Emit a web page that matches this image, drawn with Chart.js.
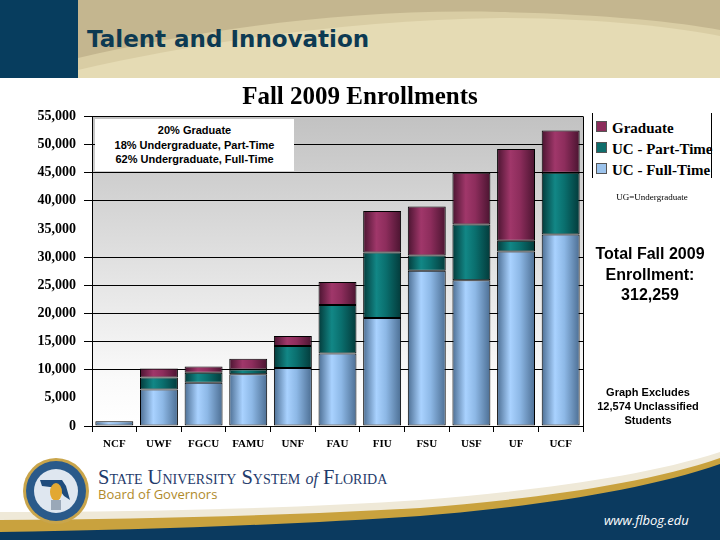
<!DOCTYPE html>
<html lang="en">
<head>
    <meta charset="UTF-8">
    <title>Fall 2009 Enrollments</title>
    <script src="https://cdn.jsdelivr.net/npm/chart.js"></script>
    <style>
        body {
            margin: 0;
            width: 720px;
            height: 540px;
            overflow: hidden;
            background: #fff;
            position: relative;
            font-family: 'Liberation Serif', serif;
        }
        .abs { position: absolute; }
        #chartBox {
            position: absolute;
            left: 0;
            top: 100px;
            width: 590px;
            height: 360px;
        }
        .slide-title {
            left: 87px;
            top: 26px;
            font-family: 'DejaVu Sans', sans-serif;
            font-weight: bold;
            font-size: 23px;
            color: #0d3a52;
        }
        .chart-title {
            left: 200px;
            width: 320px;
            top: 82px;
            text-align: center;
            font-weight: bold;
            font-size: 25px;
        }
        .note {
            left: 95px;
            top: 119px;
            width: 199px;
            height: 52px;
            background: #fff;
            font-family: 'Liberation Sans', Arial, sans-serif;
            font-weight: bold;
            font-size: 11px;
            line-height: 14.5px;
            text-align: center;
            padding-top: 4px;
            box-sizing: border-box;
        }
        #legend {
            left: 592px;
            top: 113px;
            width: 120px;
            height: 65px;
            border-left: 1px solid #000;
            border-right: 1px solid #000;
            box-sizing: border-box;
            padding: 6px 0 0 3px;
        }
        .leg-item {
            font-weight: bold;
            font-size: 15px;
            height: 21px;
            line-height: 18px;
            white-space: nowrap;
        }
        .leg-item span {
            display: inline-block;
            width: 9px;
            height: 9px;
            border: 1px solid #555;
            margin-right: 5px;
            vertical-align: 1px;
        }
        .ug {
            left: 592px;
            width: 120px;
            top: 192px;
            text-align: center;
            font-size: 9px;
        }
        .total {
            left: 580px;
            width: 140px;
            top: 244px;
            text-align: center;
            font-family: 'Liberation Sans', Arial, sans-serif;
            font-weight: bold;
            font-size: 16px;
            line-height: 20.5px;
        }
        .excl {
            left: 580px;
            width: 136px;
            top: 385px;
            text-align: center;
            font-family: 'Liberation Sans', Arial, sans-serif;
            font-weight: bold;
            font-size: 11px;
            line-height: 14px;
        }
        .sus {
            left: 98px;
            top: 466px;
            font-size: 20.5px;
            font-variant: small-caps;
            color: #1f3b6b;
        }
        .bog {
            left: 98px;
            top: 485px;
            font-family: 'Open Sans', sans-serif;
            font-size: 13px;
            color: #b08a2a;
        }
        .web {
            left: 604px;
            top: 511px;
            font-family: 'Open Sans', sans-serif;
            font-style: italic;
            font-size: 13px;
            color: #fff;
        }
    </style>
</head>
<body>
    <!-- slide header -->
    <svg class="abs" style="left:0;top:0" width="720" height="80">
        <rect x="0" y="0" width="720" height="78" fill="#c4b68f"/>
        <path d="M78,58 C200,30 350,8 500,12 C600,14 680,22 720,30 L720,78 L78,78 Z" fill="#d9cda4"/>
        <path d="M78,70 C200,42 350,20 500,18 C600,18 680,28 720,36 L720,78 L78,78 Z" fill="#e5dbb4"/>
        <rect x="0" y="0" width="78" height="78" fill="#073d5e"/>
    </svg>
    <div class="abs slide-title">Talent and Innovation</div>

    <!-- slide footer -->
    <svg class="abs" style="left:0;top:440px" width="720" height="100">
        <path d="M0,72 C150,72 300,68 420,60 C520,52 640,38 720,12 L720,30 C640,50 520,66 420,74 C300,82 150,84 0,84 Z" fill="#efe9d8"/>
        <path d="M0,80 C150,79 300,75 420,68 C520,60 640,46 720,18 L720,100 L0,100 Z" fill="#c9a23e"/>
        <path d="M0,92 C150,90 300,84 420,76 C520,68 640,52 720,24 L720,100 L0,100 Z" fill="#0b3a5f"/>
        <circle cx="56" cy="51" r="33" fill="#c9a54b"/>
        <circle cx="56" cy="51" r="30" fill="#2a5a8a"/>
        <circle cx="56" cy="51" r="22" fill="#dfe7f0"/>
        <path d="M40,40 L62,40 L66,46 L70,60 L64,56 L58,48 L42,46 Z" fill="#1f4c7c"/>
        <ellipse cx="56" cy="52" rx="6" ry="9" fill="#e2a832"/>
        <rect x="51" y="60" width="10" height="10" fill="#9aa8b8"/>
    </svg>
    <div class="abs sus">State University System <i style="font-variant:normal;font-size:16px">of</i> Florida</div>
    <div class="abs bog">Board of Governors</div>
    <div class="abs web">www.flbog.edu</div>

    <div id="chartBox"><canvas id="enrollChart"></canvas></div>

    <div class="abs chart-title">Fall 2009 Enrollments</div>
    <div class="abs note">20% Graduate<br>18% Undergraduate, Part-Time<br>62% Undergraduate, Full-Time</div>
    <div class="abs" id="legend"></div>
    <div class="abs ug">UG=Undergraduate</div>
    <div class="abs total">Total Fall 2009<br>Enrollment:<br>312,259</div>
    <div class="abs excl">Graph Excludes<br>12,574 Unclassified<br>Students</div>

    <script>
        const universities = ['NCF', 'UWF', 'FGCU', 'FAMU', 'UNF', 'FAU', 'FIU', 'FSU', 'USF', 'UF', 'UCF'];
        const ugFullTime = [850, 6500, 7700, 9200, 10300, 12900, 19200, 27600, 25900, 31000, 34000];
        const ugPartTime = [0, 2100, 1750, 850, 3900, 8600, 11600, 2700, 9900, 1900, 11000];
        const graduate   = [0, 1600, 1100, 1900, 1800, 4100, 7400, 8700, 9200, 16300, 7500];
        const yMax = 55000;
        const yStep = 5000;
        const hiddenGridValues = [35000, 5000];

        // cylinder-ish shading across each bar
        function cylinder(base, light, dark) {
            return (ctx) => {
                const chart = ctx.chart;
                if (!chart.chartArea || !chart.scales.x) return base;
                const cx = chart.scales.x.getPixelForValue(ctx.dataIndex);
                const half = 19;
                const g = chart.ctx.createLinearGradient(cx - half, 0, cx + half, 0);
                g.addColorStop(0, dark);
                g.addColorStop(0.35, light);
                g.addColorStop(0.6, base);
                g.addColorStop(1, dark);
                return g;
            };
        }

        const series = [
            { label: 'UC - Full-Time', data: ugFullTime, swatch: '#9cc3ec', colors: ['#8db8e6', '#a9d2ff', '#4c6e93'] },
            { label: 'UC - Part-Time', data: ugPartTime, swatch: '#0f6e6c', colors: ['#0a6f6e', '#128786', '#033a3a'] },
            { label: 'Graduate', data: graduate, swatch: '#8c2d5b', colors: ['#8d2d5c', '#a0376a', '#4a1430'] }
        ];

        // legend, top to bottom: Graduate first
        document.getElementById('legend').innerHTML = series.slice().reverse()
            .map(s => `<div class="leg-item"><span style="background:${s.swatch}"></span>${s.label}</div>`)
            .join('');

        const plotFrame = {
            id: 'plotFrame',
            beforeDraw(chart) {
                const { ctx, chartArea: a } = chart;
                const g = ctx.createLinearGradient(0, a.top, 0, a.bottom);
                g.addColorStop(0, '#c2c2c2');
                g.addColorStop(0.85, '#fafafa');
                g.addColorStop(1, '#ffffff');
                ctx.save();
                ctx.fillStyle = g;
                ctx.fillRect(a.left, a.top, a.right - a.left, a.bottom - a.top);
                ctx.restore();
            },
            afterDatasetsDraw(chart) {
                const { ctx, chartArea: a } = chart;
                ctx.save();
                ctx.strokeStyle = '#000';
                ctx.lineWidth = 1;
                ctx.beginPath();
                ctx.moveTo(Math.round(a.right) + 0.5, a.top);
                ctx.lineTo(Math.round(a.right) + 0.5, a.bottom);
                ctx.stroke();
                ctx.restore();
            }
        };

        new Chart(document.getElementById('enrollChart'), {
            type: 'bar',
            data: {
                labels: universities,
                datasets: series.map(s => ({
                    label: s.label,
                    data: s.data,
                    backgroundColor: cylinder(...s.colors),
                    borderColor: '#000',
                    borderWidth: 1,
                    borderSkipped: false,
                    barPercentage: 0.85,
                    categoryPercentage: 1
                }))
            },
            options: {
                responsive: true,
                maintainAspectRatio: false,
                animation: false,
                layout: { padding: { top: 14, right: 7, left: 0, bottom: 0 } },
                plugins: {
                    legend: { display: false },
                    tooltip: { enabled: false }
                },
                scales: {
                    x: {
                        stacked: true,
                        afterFit: s => { s.height = 34; },
                        grid: {
                            offset: true,
                            drawOnChartArea: false,
                            drawTicks: true,
                            tickLength: 6,
                            color: '#000'
                        },
                        border: { color: '#000', width: 1 },
                        ticks: {
                            color: '#000',
                            padding: 6,
                            font: { family: 'Liberation Serif', weight: 'bold', size: 11 }
                        }
                    },
                    y: {
                        stacked: true,
                        min: 0,
                        max: yMax,
                        afterFit: s => { s.width = 92; },
                        grid: {
                            tickLength: 8,
                            color: c => (c.tick && hiddenGridValues.includes(c.tick.value)) ? 'rgba(0,0,0,0)' : '#000'
                        },
                        border: { color: '#000', width: 1 },
                        ticks: {
                            stepSize: yStep,
                            padding: 8,
                            color: '#000',
                            font: { family: 'Liberation Serif', weight: 'bold', size: 14 },
                            callback: v => v.toLocaleString('en-US')
                        }
                    }
                }
            },
            plugins: [plotFrame]
        });
    </script>
</body>
</html>
